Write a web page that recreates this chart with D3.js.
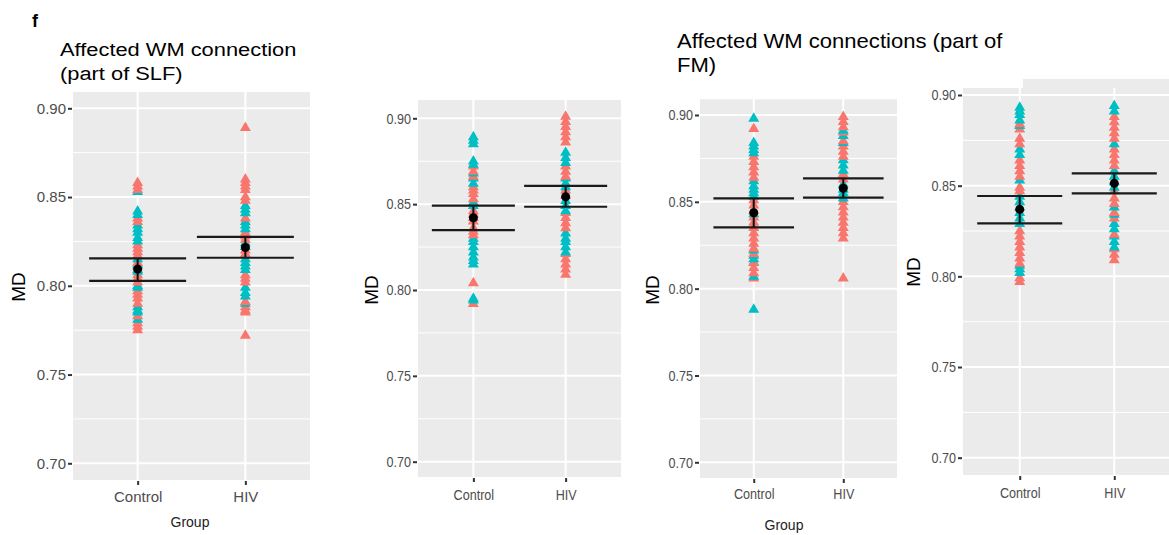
<!DOCTYPE html>
<html>
  <head>
    <meta charset="utf-8">
    <style>
    body { margin: 0; background: #fff; }
    svg { display: block; font-family: "Liberation Sans", Arial, sans-serif; }
    </style>
  </head>
  <body>
    <div id="chart-area"></div>

    <script src="https://d3js.org/d3.v7.min.js"></script>
    <script>
      // categories and ticks
      const groups = ["Control", "HIV"];
      const yTicks = [0.70, 0.75, 0.80, 0.85, 0.90];
      const yMinor = [0.725, 0.775, 0.825, 0.875];

      // panel A (part of SLF)
      const panelAControlRed = [0.858, 0.856, 0.854, 0.838, 0.836, 0.823, 0.821, 0.819, 0.817, 0.813, 0.811, 0.806, 0.804, 0.802, 0.797, 0.795, 0.793, 0.790, 0.783, 0.779, 0.777, 0.775];
      const panelAControlTeal = [0.853, 0.842, 0.840, 0.834, 0.832, 0.830, 0.827, 0.825, 0.815, 0.812, 0.809, 0.808, 0.800, 0.799, 0.788, 0.786, 0.785, 0.781];
      const panelAHivRed = [0.889, 0.860, 0.858, 0.856, 0.854, 0.850, 0.848, 0.838, 0.830, 0.828, 0.826, 0.820, 0.818, 0.806, 0.804, 0.802, 0.791, 0.788, 0.786, 0.785, 0.772];
      const panelAHivTeal = [0.845, 0.843, 0.841, 0.836, 0.834, 0.832, 0.824, 0.822, 0.815, 0.813, 0.811, 0.809, 0.799, 0.796, 0.794, 0.790];
      const panelAMean = [0.8094, 0.8216];
      const panelALower = [0.8028, 0.8158];
      const panelAUpper = [0.8154, 0.8276];

      // panel B
      const panelBControlRed = [0.872, 0.869, 0.866, 0.860, 0.858, 0.856, 0.853, 0.846, 0.844, 0.842, 0.840, 0.836, 0.834, 0.832, 0.804, 0.792];
      const panelBControlTeal = [0.889, 0.887, 0.885, 0.875, 0.873, 0.868, 0.865, 0.862, 0.851, 0.849, 0.830, 0.828, 0.825, 0.822, 0.819, 0.817, 0.815, 0.795, 0.794];
      const panelBHivRed = [0.901, 0.898, 0.895, 0.892, 0.889, 0.886, 0.872, 0.869, 0.866, 0.858, 0.855, 0.845, 0.842, 0.839, 0.836, 0.821, 0.818, 0.815, 0.812, 0.809];
      const panelBHivTeal = [0.880, 0.877, 0.874, 0.865, 0.862, 0.860, 0.852, 0.849, 0.846, 0.833, 0.830, 0.828, 0.825, 0.822];
      const panelBMean = [0.8421, 0.8543];
      const panelBLower = [0.8349, 0.8485];
      const panelBUpper = [0.8491, 0.8607];

      // panel C (part of FM)
      const panelCControlRed = [0.892, 0.876, 0.873, 0.870, 0.867, 0.864, 0.851, 0.848, 0.845, 0.841, 0.838, 0.835, 0.832, 0.829, 0.826, 0.823, 0.820, 0.815, 0.812, 0.809, 0.806];
      const panelCControlTeal = [0.898, 0.884, 0.882, 0.880, 0.878, 0.862, 0.859, 0.857, 0.855, 0.853, 0.843, 0.822, 0.819, 0.817, 0.815, 0.807, 0.788];
      const panelCHivRed = [0.899, 0.896, 0.893, 0.890, 0.885, 0.882, 0.879, 0.876, 0.866, 0.863, 0.850, 0.847, 0.844, 0.841, 0.838, 0.835, 0.832, 0.829, 0.806];
      const panelCHivTeal = [0.891, 0.888, 0.884, 0.874, 0.871, 0.868, 0.860, 0.857, 0.855, 0.852];
      const panelCMean = [0.8437, 0.8578];
      const panelCLower = [0.8353, 0.8524];
      const panelCUpper = [0.8520, 0.8635];

      // panel D
      const panelDControlRed = [0.884, 0.881, 0.876, 0.873, 0.864, 0.861, 0.858, 0.855, 0.849, 0.847, 0.825, 0.822, 0.819, 0.816, 0.813, 0.810, 0.807, 0.799, 0.797];
      const panelDControlTeal = [0.893, 0.891, 0.889, 0.886, 0.883, 0.870, 0.867, 0.853, 0.844, 0.841, 0.838, 0.835, 0.832, 0.829, 0.806, 0.804, 0.802];
      const panelDHivRed = [0.888, 0.885, 0.882, 0.879, 0.876, 0.870, 0.867, 0.864, 0.861, 0.847, 0.843, 0.840, 0.835, 0.832, 0.823, 0.815, 0.812, 0.809];
      const panelDHivTeal = [0.894, 0.891, 0.873, 0.858, 0.855, 0.852, 0.849, 0.838, 0.834, 0.829, 0.826, 0.822, 0.819, 0.816];
      const panelDMean = [0.8369, 0.8513];
      const panelDLower = [0.8292, 0.8458];
      const panelDUpper = [0.8443, 0.8568];

      const red = "#F8766D";
      const teal = "#00BFC4";

      // where each panel sits on the page
      const panels = [
        { left: 73, right: 310, top: 92, bottom: 480, y70: 463.3, y90: 108.3, squeeze: 1,
          md: [18, 287], tickBase: 502, group: [190, 527],
          title: { x: 60, y: 56, sx: 1.15, size: 19, lines: ["Affected WM connection", "(part of SLF)"] },
          red: [panelAControlRed, panelAHivRed], teal: [panelAControlTeal, panelAHivTeal],
          mean: panelAMean, lower: panelALower, upper: panelAUpper },
        { left: 418, right: 621, top: 100, bottom: 477, y70: 461.7, y90: 118.3, squeeze: 0.84,
          md: [371, 290], tickBase: 500, group: null, title: null,
          red: [panelBControlRed, panelBHivRed], teal: [panelBControlTeal, panelBHivTeal],
          mean: panelBMean, lower: panelBLower, upper: panelBUpper },
        { left: 700, right: 897, top: 99.3, bottom: 478, y70: 462.3, y90: 115, squeeze: 0.84,
          md: [652, 290], tickBase: 499, group: [784, 530],
          title: { x: 677, y: 48, sx: 1.05, size: 21, lines: ["Affected WM connections (part of", "FM)"] },
          red: [panelCControlRed, panelCHivRed], teal: [panelCControlTeal, panelCHivTeal],
          mean: panelCMean, lower: panelCLower, upper: panelCUpper },
        { left: 963, right: 1171, top: 88, bottom: 475, y70: 457.7, y90: 95, squeeze: 0.84,
          md: [913, 272], tickBase: 498, group: null, title: null,
          red: [panelDControlRed, panelDHivRed], teal: [panelDControlTeal, panelDHivTeal],
          mean: panelDMean, lower: panelDLower, upper: panelDUpper }
      ];

      const width = 1169;
      const height = 535;

      const svg = d3.select("#chart-area")
        .append("svg")
          .attr("width", width)
          .attr("height", height);

      svg.append("text")
        .attr("x", 32)
        .attr("y", 27)
        .attr("font-size", 18)
        .attr("font-weight", "bold")
        .text("f");

      const triangle = d3.symbol().type(d3.symbolTriangle).size(52);

      panels.forEach(p => {
        const x = d3.scalePoint().domain(groups).range([p.left, p.right]).padding(0.6);
        const y = d3.scaleLinear().domain([0.70, 0.90]).range([p.y70, p.y90]);
        const g = svg.append("g");

        // background
        g.append("rect")
          .attr("x", p.left)
          .attr("y", p.top)
          .attr("width", p.right - p.left)
          .attr("height", p.bottom - p.top)
          .attr("fill", "#EBEBEB");

        if (p === panels[3]) {
          // the taller strip at top right of the last panel
          g.append("rect")
            .attr("x", 1023)
            .attr("y", 79)
            .attr("width", p.right - 1023)
            .attr("height", p.top - 79 + 1)
            .attr("fill", "#EBEBEB");
        }

        // grid
        g.selectAll(".minor")
          .data(yMinor)
          .enter().append("line")
            .attr("x1", p.left).attr("x2", p.right)
            .attr("y1", d => y(d)).attr("y2", d => y(d))
            .attr("stroke", "#fff")
            .attr("stroke-width", 1);

        g.selectAll(".major")
          .data(yTicks)
          .enter().append("line")
            .attr("x1", p.left).attr("x2", p.right)
            .attr("y1", d => y(d)).attr("y2", d => y(d))
            .attr("stroke", "#fff")
            .attr("stroke-width", 2);

        g.selectAll(".vgrid")
          .data(groups)
          .enter().append("line")
            .attr("x1", d => x(d)).attr("x2", d => x(d))
            .attr("y1", p.top).attr("y2", p.bottom)
            .attr("stroke", "#fff")
            .attr("stroke-width", 2);

        // y axis
        const yAxis = g.append("g")
          .attr("transform", `translate(${p.left},0)`)
          .call(d3.axisLeft(y).tickValues(yTicks).tickFormat(d3.format(".2f")).tickSize(4).tickPadding(3));
        yAxis.select(".domain").remove();
        yAxis.selectAll(".tick line").attr("stroke", "#333").attr("stroke-width", 2).attr("x2", -5).attr("x1", -1);
        yAxis.selectAll(".tick text")
          .attr("font-size", 15)
          .attr("fill", "#4D4D4D")
          .attr("font-family", null)
          .attr("x", -7 / p.squeeze)
          .attr("transform", `scale(${p.squeeze},1)`);

        // x axis
        const xAxis = g.append("g")
          .attr("transform", `translate(0,${p.bottom})`)
          .call(d3.axisBottom(x).tickSize(4).tickPadding(0));
        xAxis.select(".domain").remove();
        xAxis.selectAll(".tick line").attr("stroke", "#333").attr("stroke-width", 2).attr("y1", 1).attr("y2", 5);
        xAxis.selectAll(".tick text")
          .attr("font-size", 15)
          .attr("fill", "#4D4D4D")
          .attr("font-family", null)
          .attr("dy", null)
          .attr("y", p.tickBase - p.bottom)
          .attr("transform", `scale(${p.squeeze},1)`);

        // points, drawn per group with the two colours mixed
        groups.forEach((grp, i) => {
          const pts = p.red[i].map(v => ({ v: v, c: red }))
            .concat(p.teal[i].map(v => ({ v: v, c: teal })))
            .sort((a, b) => (a.v - b.v) || (a.c < b.c ? -1 : 1));
          g.selectAll(null)
            .data(pts)
            .enter().append("path")
              .attr("d", triangle)
              .attr("transform", d => `translate(${x(grp)},${y(d.v)})`)
              .attr("fill", d => d.c);
        });

        // mean, error bar and interval lines
        const half = x.step() * 0.45;
        groups.forEach((grp, i) => {
          g.append("line")
            .attr("x1", x(grp)).attr("x2", x(grp))
            .attr("y1", y(p.lower[i])).attr("y2", y(p.upper[i]))
            .attr("stroke", "#111").attr("stroke-width", 2);
          [p.lower[i], p.upper[i]].forEach(v => {
            g.append("line")
              .attr("x1", x(grp) - half).attr("x2", x(grp) + half)
              .attr("y1", y(v)).attr("y2", y(v))
              .attr("stroke", "#1a1a1a").attr("stroke-width", 2.2);
          });
          g.append("circle")
            .attr("cx", x(grp))
            .attr("cy", y(p.mean[i]))
            .attr("r", 4.5)
            .attr("fill", "#000");
        });

        // axis titles
        g.append("text")
          .attr("transform", `translate(${p.md[0]},${p.md[1]}) rotate(-90)`)
          .attr("text-anchor", "middle")
          .attr("dy", "0.35em")
          .attr("font-size", 19)
          .attr("fill", "#000")
          .text("MD");

        if (p.group) {
          g.append("text")
            .attr("x", p.group[0])
            .attr("y", p.group[1])
            .attr("text-anchor", "middle")
            .attr("font-size", 14)
            .attr("fill", "#222")
            .text("Group");
        }

        if (p.title) {
          const t = g.append("text")
            .attr("transform", `translate(${p.title.x},${p.title.y}) scale(${p.title.sx},1)`)
            .attr("font-size", p.title.size)
            .attr("fill", "#000");
          p.title.lines.forEach((line, k) => {
            t.append("tspan")
              .attr("x", 0)
              .attr("y", k * 24)
              .text(line);
          });
        }
      });
    </script>
  </body>
</html>
